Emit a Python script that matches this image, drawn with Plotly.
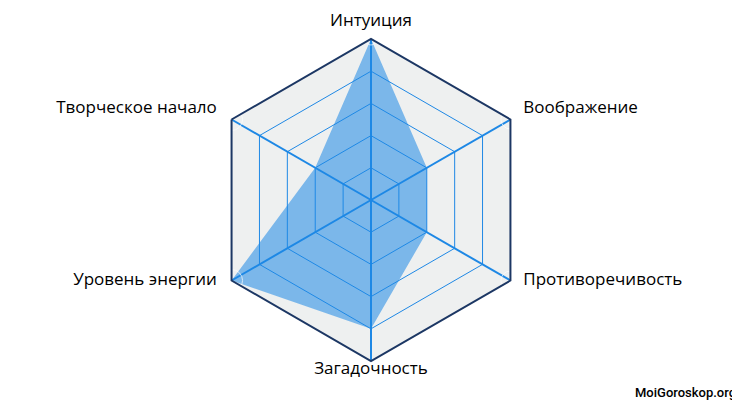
import plotly.graph_objects as go

categories = ['Интуиция', 'Воображение', 'Противоречивость',
              'Загадочность', 'Уровень энергии', 'Творческое начало']
values = [5, 2, 2, 4, 5, 2]
levels = [1, 2, 3, 4, 5]

blue = '#1e88e5'

fig = go.Figure()
fig.add_trace(go.Scatterpolar(
    r=values + values[:1],
    theta=categories + categories[:1],
    fill='toself',
    fillcolor='rgba(30,136,229,0.55)',
    line=dict(color='rgba(30,136,229,0.55)', width=0),
    mode='lines',
    hoverinfo='skip',
))

# category names sit just outside the outer ring; invisible markers set the gap.
# the upper side labels get an empty second line so they sit above their corner
label_text = [c + '<br> ' if i in (1, 5) else c for i, c in enumerate(categories)]
fig.add_trace(go.Scatterpolar(
    r=[levels[-1]] * len(categories),
    theta=categories,
    mode='markers+text',
    text=label_text,
    textposition=['top center', 'middle right', 'middle right',
                  'bottom center', 'middle left', 'middle left'],
    marker=dict(size=[12, 19, 19, 0, 22, 22], color='rgba(0,0,0,0)'),
    textfont=dict(family='Open Sans', size=17, color='black', weight=500),
    cliponaxis=False,
    hoverinfo='skip',
))

# the page body has an 8px margin, so the margins are offset for it
fig.update_layout(
    width=740, height=400,
    margin=dict(l=0, r=14, t=31, b=47),
    paper_bgcolor='white',
    showlegend=False,
    font=dict(family='Open Sans', size=17, color='black'),
    polar=dict(
        gridshape='linear',
        bgcolor='#eef0f0',
        radialaxis=dict(range=[0, 5], tickvals=levels, showticklabels=False,
                        ticks='', showline=False, gridcolor=blue, gridwidth=1),
        angularaxis=dict(rotation=90, direction='clockwise', ticks='',
                         showticklabels=False,
                         gridcolor=blue, gridwidth=2,
                         linecolor='#1c3764', linewidth=2),
    ),
    annotations=[dict(text='MoiGoroskop.org', x=1, y=0, xref='paper', yref='paper',
                      xanchor='right', yanchor='middle', xshift=4, yshift=-31,
                      showarrow=False,
                      font=dict(family='Roboto', size=13, color='black', weight=500))],
)

fig.write_html('out.html')
